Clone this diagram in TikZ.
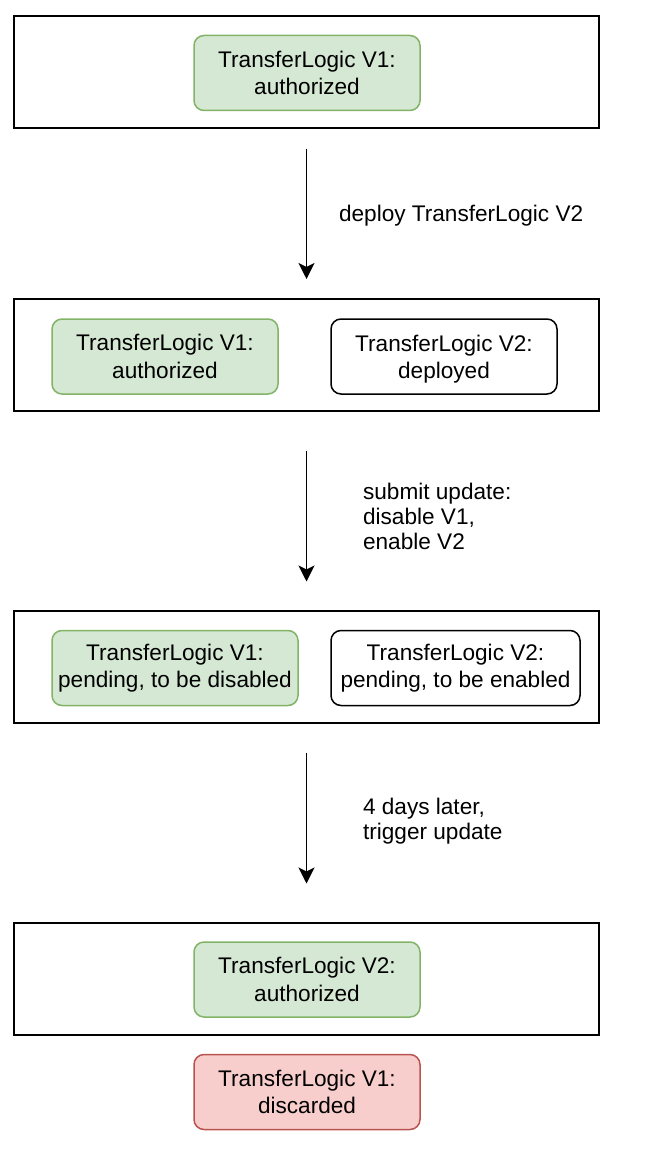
\documentclass[tikz,border=0pt]{standalone}
\usepackage{fontspec}
\setmainfont{Liberation Sans}
\usetikzlibrary{arrows.meta}
\definecolor{okfill}{HTML}{D5E8D4}
\definecolor{okline}{HTML}{82B366}
\definecolor{badfill}{HTML}{F8CECC}
\definecolor{badline}{HTML}{B85450}
\begin{document}
\begin{tikzpicture}[x=0.5pt,y=-0.5pt,
    font=\fontsize{11.3}{13.6}\selectfont,
    frame/.style = {draw,line width=1pt,minimum width=292.5pt,minimum height=56pt,inner sep=0pt},
    state/.style = {draw,line width=0.75pt,rounded corners=5pt,align=center,minimum height=37.5pt,inner sep=2pt},
    authorized/.style = {state,fill=okfill,draw=okline},
    discarded/.style = {state,fill=badfill,draw=badline},
    arrow/.style = {line width=0.9pt,-{Stealth[length=8pt,width=8pt,inset=2pt]}},
    step label/.style = {anchor=west,align=left,font=\fontsize{11.3}{12.5}\selectfont}]
    \useasboundingbox (0,0) rectangle (650,1150);

    \node [frame] (f1) at (306.5,72) {};
    \node [frame] (f2) at (306.5,355) {};
    \node [frame] (f3) at (306.5,666.5) {};
    \node [frame] (f4) at (306.5,978.5) {};

    \node [authorized, minimum width=113pt] (v1a) at (307,73) {TransferLogic V1:\\authorized};

    \node [authorized, minimum width=113pt] (v1b) at (165,356.5) {TransferLogic V1:\\authorized};
    \node [state, minimum width=113pt] (v2b) at (444,356.5) {TransferLogic V2:\\\smash{deployed}};

    \node [authorized, minimum width=123pt] (v1c) at (175,668) {TransferLogic V1:\\pending, to be disabled};
    \node [state, minimum width=124.5pt] (v2c) at (455.5,668) {TransferLogic V2:\\pending, to be enabled};

    \node [authorized, minimum width=113pt] (v2d) at (307,979.5) {TransferLogic V2:\\authorized};
    \node [discarded, minimum width=113pt] (v1d) at (307,1092) {TransferLogic V1:\\discarded};

    \draw[arrow] ([yshift=-10pt]f1.south) -- ([yshift=9.5pt]f2.north);
    \draw[arrow] ([yshift=-19.5pt]f2.south) -- ([yshift=14pt]f3.north);
    \draw[arrow] ([yshift=-14.5pt]f3.south) -- ([yshift=19pt]f4.north);

    \node [step label] (deploy) at (332,216) {deploy TransferLogic V2};
    \node [step label] (submit) at (356,516) {submit update:\\disable V1,\\enable V2};
    \node [step label] (trigger) at (356,821) {4 days later,\\trigger update};
\end{tikzpicture}
\end{document}
